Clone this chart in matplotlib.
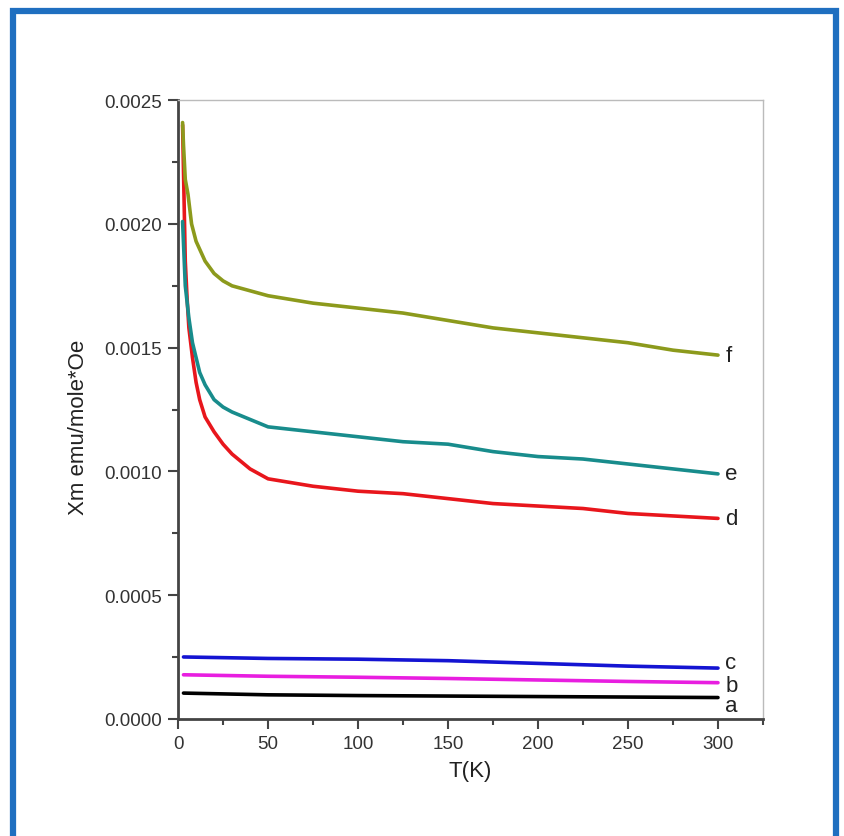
import matplotlib.pyplot as plt
from matplotlib.patches import Rectangle
from matplotlib.ticker import MultipleLocator

plt.rcParams['font.family'] = ['Liberation Sans', 'DejaVu Sans']

# temperature grids (K)
T_low = [3, 50, 100, 150, 200, 250, 300]
T_f = [2.5, 3, 4, 5.5, 7.5, 10, 15, 20, 25, 30, 40, 50, 75, 100, 125, 150, 175, 200, 225, 250, 275, 300]
T_e = [2.5, 4, 6, 8, 10, 12, 15, 20, 25, 30, 40, 50, 75, 100, 125, 150, 175, 200, 225, 250, 275, 300]
T_d = [2.5, 4, 5, 6, 8, 10, 12, 15, 20, 25, 30, 40, 50, 75, 100, 125, 150, 175, 200, 225, 250, 275, 300]

# susceptibility (emu/mole*Oe)
chi_a = [0.000104, 0.000097, 0.000094, 0.000092, 0.000090, 0.000088, 0.000086]
chi_b = [0.000178, 0.000172, 0.000168, 0.000163, 0.000157, 0.000151, 0.000146]
chi_c = [0.000250, 0.000244, 0.000241, 0.000235, 0.000224, 0.000213, 0.000205]
chi_d = [0.00240, 0.00185, 0.00170, 0.00158, 0.00146, 0.00136, 0.00129, 0.00122, 0.00116,
         0.00111, 0.00107, 0.00101, 0.00097, 0.00094, 0.00092, 0.00091, 0.00089, 0.00087,
         0.00086, 0.00085, 0.00083, 0.00082, 0.00081]
chi_e = [0.00201, 0.00175, 0.00162, 0.00152, 0.00146, 0.00140, 0.00135, 0.00129, 0.00126,
         0.00124, 0.00121, 0.00118, 0.00116, 0.00114, 0.00112, 0.00111, 0.00108, 0.00106,
         0.00105, 0.00103, 0.00101, 0.00099]
chi_f = [0.00241, 0.00232, 0.00218, 0.00212, 0.00200, 0.00193, 0.00185, 0.00180, 0.00177,
         0.00175, 0.00173, 0.00171, 0.00168, 0.00166, 0.00164, 0.00161, 0.00158, 0.00156,
         0.00154, 0.00152, 0.00149, 0.00147]

labels = ['a', 'b', 'c', 'd', 'e', 'f']
label_y = [0.000055, 0.000135, 0.000228, 0.00081, 0.00099, 0.00147]
colors = ['#000000', '#e81ee0', '#1414d2', '#e8161c', '#188c8c', '#8c9a1c']

fig = plt.figure(figsize=(8.44, 8.37), dpi=100)
fig.patches.append(Rectangle((0.015, -0.05), 0.975, 1.036, transform=fig.transFigure,
                             fill=False, edgecolor='#1f6fc0', linewidth=4.5))
ax = fig.add_axes([0.211, 0.140, 0.693, 0.739])

series = [(T_low, chi_a), (T_low, chi_b), (T_low, chi_c), (T_d, chi_d), (T_e, chi_e), (T_f, chi_f)]
for (t, y), col in zip(series, colors):
    ax.plot(t, y, color=col, lw=2.6, solid_capstyle='round')

for lab, y, col in zip(labels, label_y, colors):
    ax.text(304, y, lab, fontsize=16, color='#222222', va='center', ha='left')

ax.set_xlim(0, 325)
ax.set_ylim(0, 0.0025)
ax.xaxis.set_major_locator(MultipleLocator(50))
ax.xaxis.set_minor_locator(MultipleLocator(25))
ax.yaxis.set_major_locator(MultipleLocator(0.0005))
ax.yaxis.set_minor_locator(MultipleLocator(0.00025))
ax.set_xticks([0, 50, 100, 150, 200, 250, 300])
ax.yaxis.set_major_formatter(plt.FuncFormatter(lambda v, p: f'{v:.4f}'))

for s in ['left', 'bottom']:
    ax.spines[s].set_color('#444444')
    ax.spines[s].set_linewidth(2)
for s in ['top', 'right']:
    ax.spines[s].set_color('#bbbbbb')
    ax.spines[s].set_linewidth(1)

ax.tick_params(which='major', direction='out', length=7.5, width=1.5, color='#444444',
               labelsize=13.5, labelcolor='#333333', pad=4)
ax.tick_params(which='minor', direction='out', length=4.5, width=1.5, color='#444444')

ax.set_xlabel('T(K)', fontsize=16, color='#222222', labelpad=6)
ax.set_ylabel('Xm emu/mole*Oe', fontsize=16, color='#222222')
ax.yaxis.set_label_coords(-0.152, 0.473)

fig.savefig('out.png', dpi=100)
